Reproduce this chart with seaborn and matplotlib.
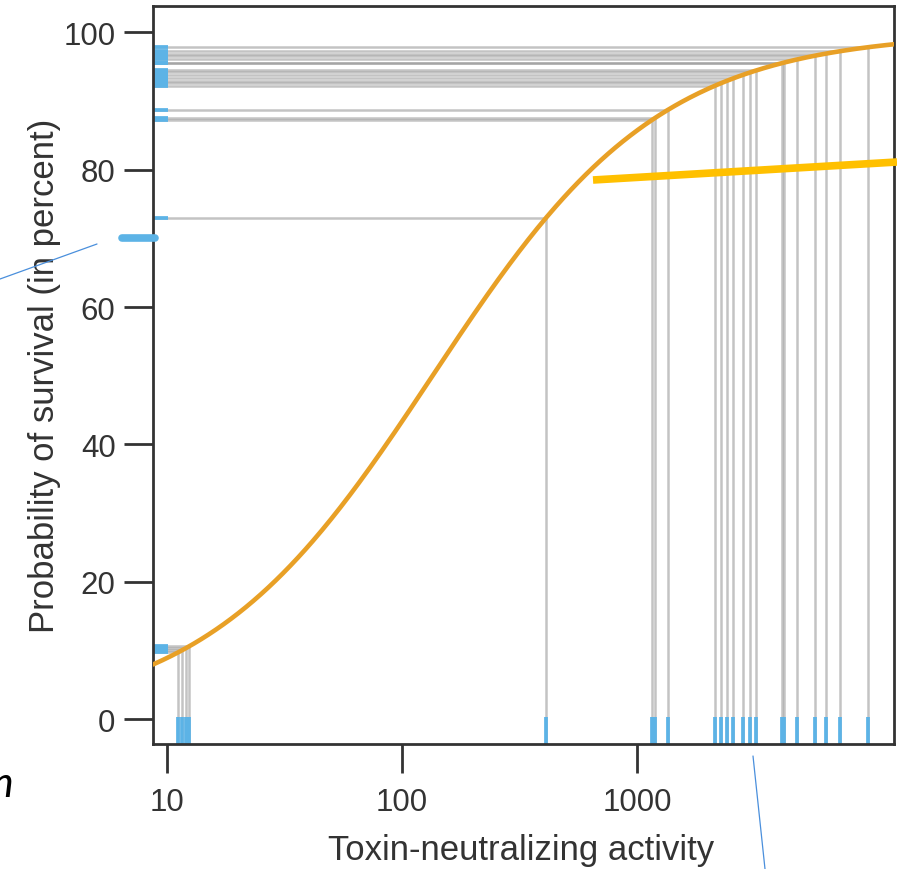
import numpy as np
import matplotlib
matplotlib.use("Agg")
import matplotlib.pyplot as plt
from matplotlib.lines import Line2D
import seaborn as sns

# ---- data ----
activity = [11.1, 11.6, 12.0, 12.4, 410, 1155, 1193, 1351, 2147, 2278, 2408,
            2569, 2833, 3026, 3200, 4150, 4230, 4780, 5720, 6350, 7310, 9650]
survival_pct = [9.7, 10.0, 10.3, 10.6, 73.0, 87.2, 87.5, 88.7, 92.2, 92.6, 92.9,
                93.3, 93.8, 94.2, 94.5, 95.6, 95.6, 96.1, 96.6, 96.9, 97.3, 97.9]
# fitted logistic curve (logit of survival vs log10 activity)
curve_intercept = -4.388
curve_slope = 2.06
x_ticks = [10, 100, 1000]
x_tick_labels = ["10", "100", "1000"]
y_ticks = [0, 20, 40, 60, 80, 100]

sns.set_style("white")
plt.rcParams["font.family"] = ["Liberation Sans", "DejaVu Sans"]

W, H = 897, 870
fig = plt.figure(figsize=(W / 100, H / 100), dpi=100)
ax = fig.add_axes([153 / W, 1 - 745 / H, (894 - 153) / W, (745 - 7) / H])

xmin, xmax = 8.72, 12400
ymin, ymax = -3.64, 103.85

gray = "#888888"
blue = "#5cb3e6"
orange = "#E8A026"

ax.vlines(activity, ymin, survival_pct, color=gray, alpha=0.5, lw=1.8, zorder=1)
ax.hlines(survival_pct, xmin, activity, color=gray, alpha=0.5, lw=1.8, zorder=1)

sns.rugplot(x=activity, height=0.037, color=blue, linewidth=2.7, ax=ax,
            expand_margins=False, zorder=2)
sns.rugplot(y=survival_pct, height=0.02, color=blue, linewidth=2.7, ax=ax,
            expand_margins=False, zorder=2)

grid = np.logspace(np.log10(xmin), np.log10(xmax), 400)
curve = 100 / (1 + np.exp(-(curve_intercept + curve_slope * np.log10(grid))))
sns.lineplot(x=grid, y=curve, color=orange, linewidth=3.3, ax=ax, zorder=3)

ax.set_xscale("log")
ax.set_xlim(xmin, xmax)
ax.set_ylim(ymin, ymax)
ax.set_xticks(x_ticks)
ax.set_xticklabels(x_tick_labels)
ax.xaxis.set_minor_locator(matplotlib.ticker.NullLocator())
ax.set_yticks(y_ticks)
ax.set_yticklabels([str(v) for v in y_ticks])
ax.tick_params(axis="both", which="major", length=21, width=2, color="#333333",
               labelsize=22.5, labelcolor="#333333", pad=6, direction="out")
ax.tick_params(axis="x", pad=10)
ax.tick_params(axis="both", left=True, bottom=True)
for s in ax.spines.values():
    s.set_linewidth(2)
    s.set_color("#333333")
    s.set_visible(True)

ax.set_xlabel("Toxin-neutralizing activity", fontsize=25, color="#333333")
ax.set_ylabel("Probability of survival (in percent)", fontsize=25, color="#333333")
ax.xaxis.set_label_coords((521 - 153) / 741, (745 - 834) / 738)
ax.yaxis.set_label_coords((61 - 153) / 741, 0.5)

# ---- overlay annotations (figure pixel coords) ----
def fline(x0, y0, x1, y1, **kw):
    fig.add_artist(Line2D([x0 / W, x1 / W], [1 - y0 / H, 1 - y1 / H],
                          transform=fig.transFigure, **kw))

fline(593, 181, 897, 163, color="#FFC000", lw=5.5, solid_capstyle="butt", zorder=10)
fline(122, 239, 155, 239, color=blue, lw=5.5, solid_capstyle="round", zorder=10)
fline(0, 280, 97, 245, color="#4a8fdc", lw=0.9, zorder=10)
fline(753, 757, 765, 870, color="#4a8fdc", lw=0.9, zorder=10)

fig.text(13 / W, 1 - 797 / H, "n", ha="right", va="baseline", fontsize=31,
         style="italic", family=["Lato", "DejaVu Sans"], color="black")

fig.savefig("out.png", dpi=100)
